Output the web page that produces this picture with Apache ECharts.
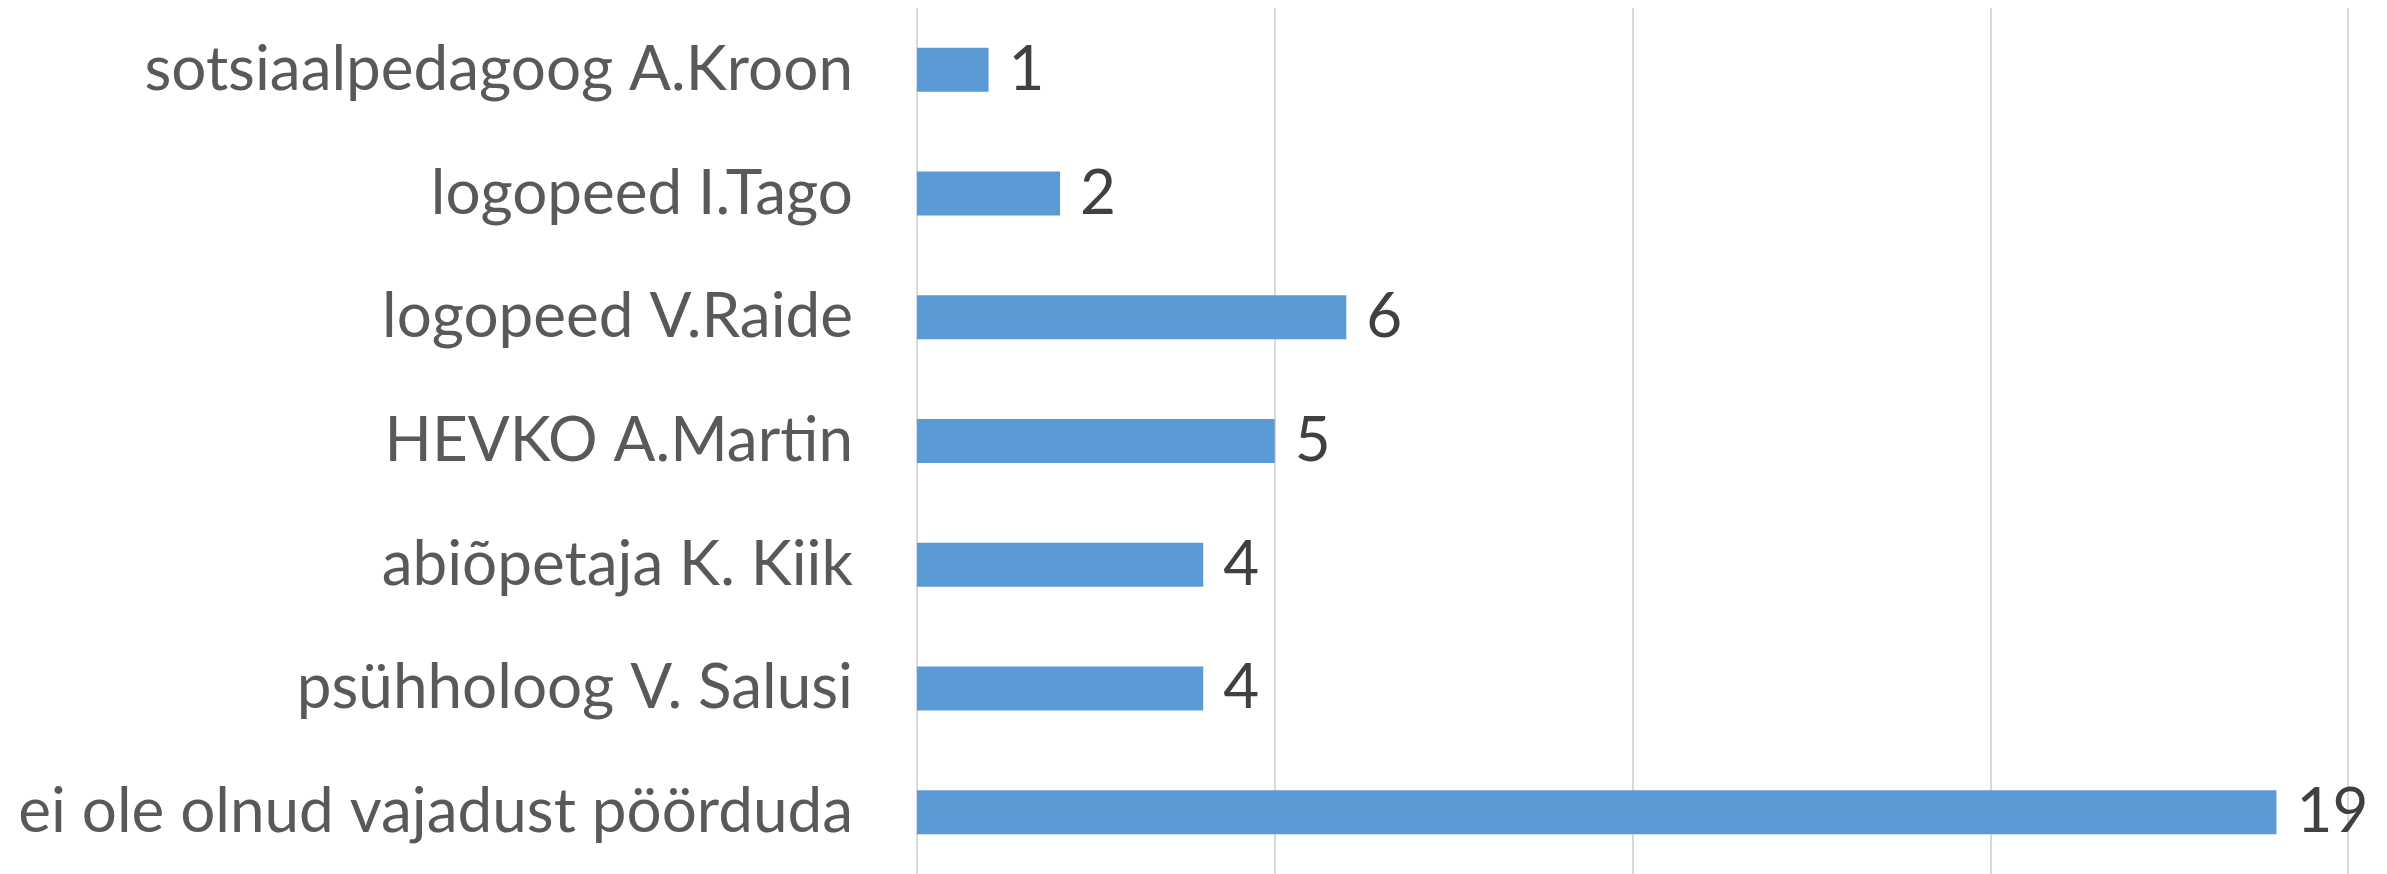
<!doctype html>
<html>
<head>
    <meta charset="utf-8">
    <title>Pöördumised</title>
    <script type="text/javascript" src="https://cdn.jsdelivr.net/npm/echarts@6/dist/echarts.min.js"></script>
    <style>
        html, body { margin: 0; padding: 0; background: #fff; }
        #container { width: 2387px; height: 874px; }
    </style>
</head>
<body>
<div id="container"></div>
<script type="text/javascript">
    // kategooriad ülalt alla
    var categories = [
        'sotsiaalpedagoog A.Kroon',
        'logopeed I.Tago',
        'logopeed V.Raide',
        'HEVKO A.Martin',
        'abiõpetaja K. Kiik',
        'psühholoog V. Salusi',
        'ei ole olnud vajadust pöörduda'
    ];
    var counts = [1, 2, 6, 5, 4, 4, 19];
    var axisMax = 20;
    var axisStep = 5;

    var myChart = echarts.init(document.getElementById('container'));
    var option = {
        animation: false,
        textStyle: { fontFamily: 'Lato' },
        grid: {
            left: 917,
            right: 39,
            top: 8,
            height: 873
        },
        xAxis: {
            type: 'value',
            min: 0,
            max: axisMax,
            interval: axisStep,
            axisLabel: { show: false },
            axisLine: { show: false },
            axisTick: { show: false },
            splitLine: { lineStyle: { color: '#d9d9d9', width: 2 } }
        },
        yAxis: {
            type: 'category',
            inverse: true,
            data: categories,
            axisLine: { show: false },
            axisTick: { show: false },
            axisLabel: {
                margin: 64,
                fontSize: 62,
                color: '#595959',
                fontFamily: 'Lato'
            }
        },
        series: [
            {
                type: 'bar',
                data: counts,
                barWidth: 44,
                itemStyle: { color: '#5b9bd5' },
                label: {
                    show: true,
                    position: 'right',
                    distance: 20,
                    fontSize: 62,
                    color: '#404040',
                    fontFamily: 'Lato'
                }
            }
        ]
    };
    myChart.setOption(option, true);
</script>
</body>
</html>
